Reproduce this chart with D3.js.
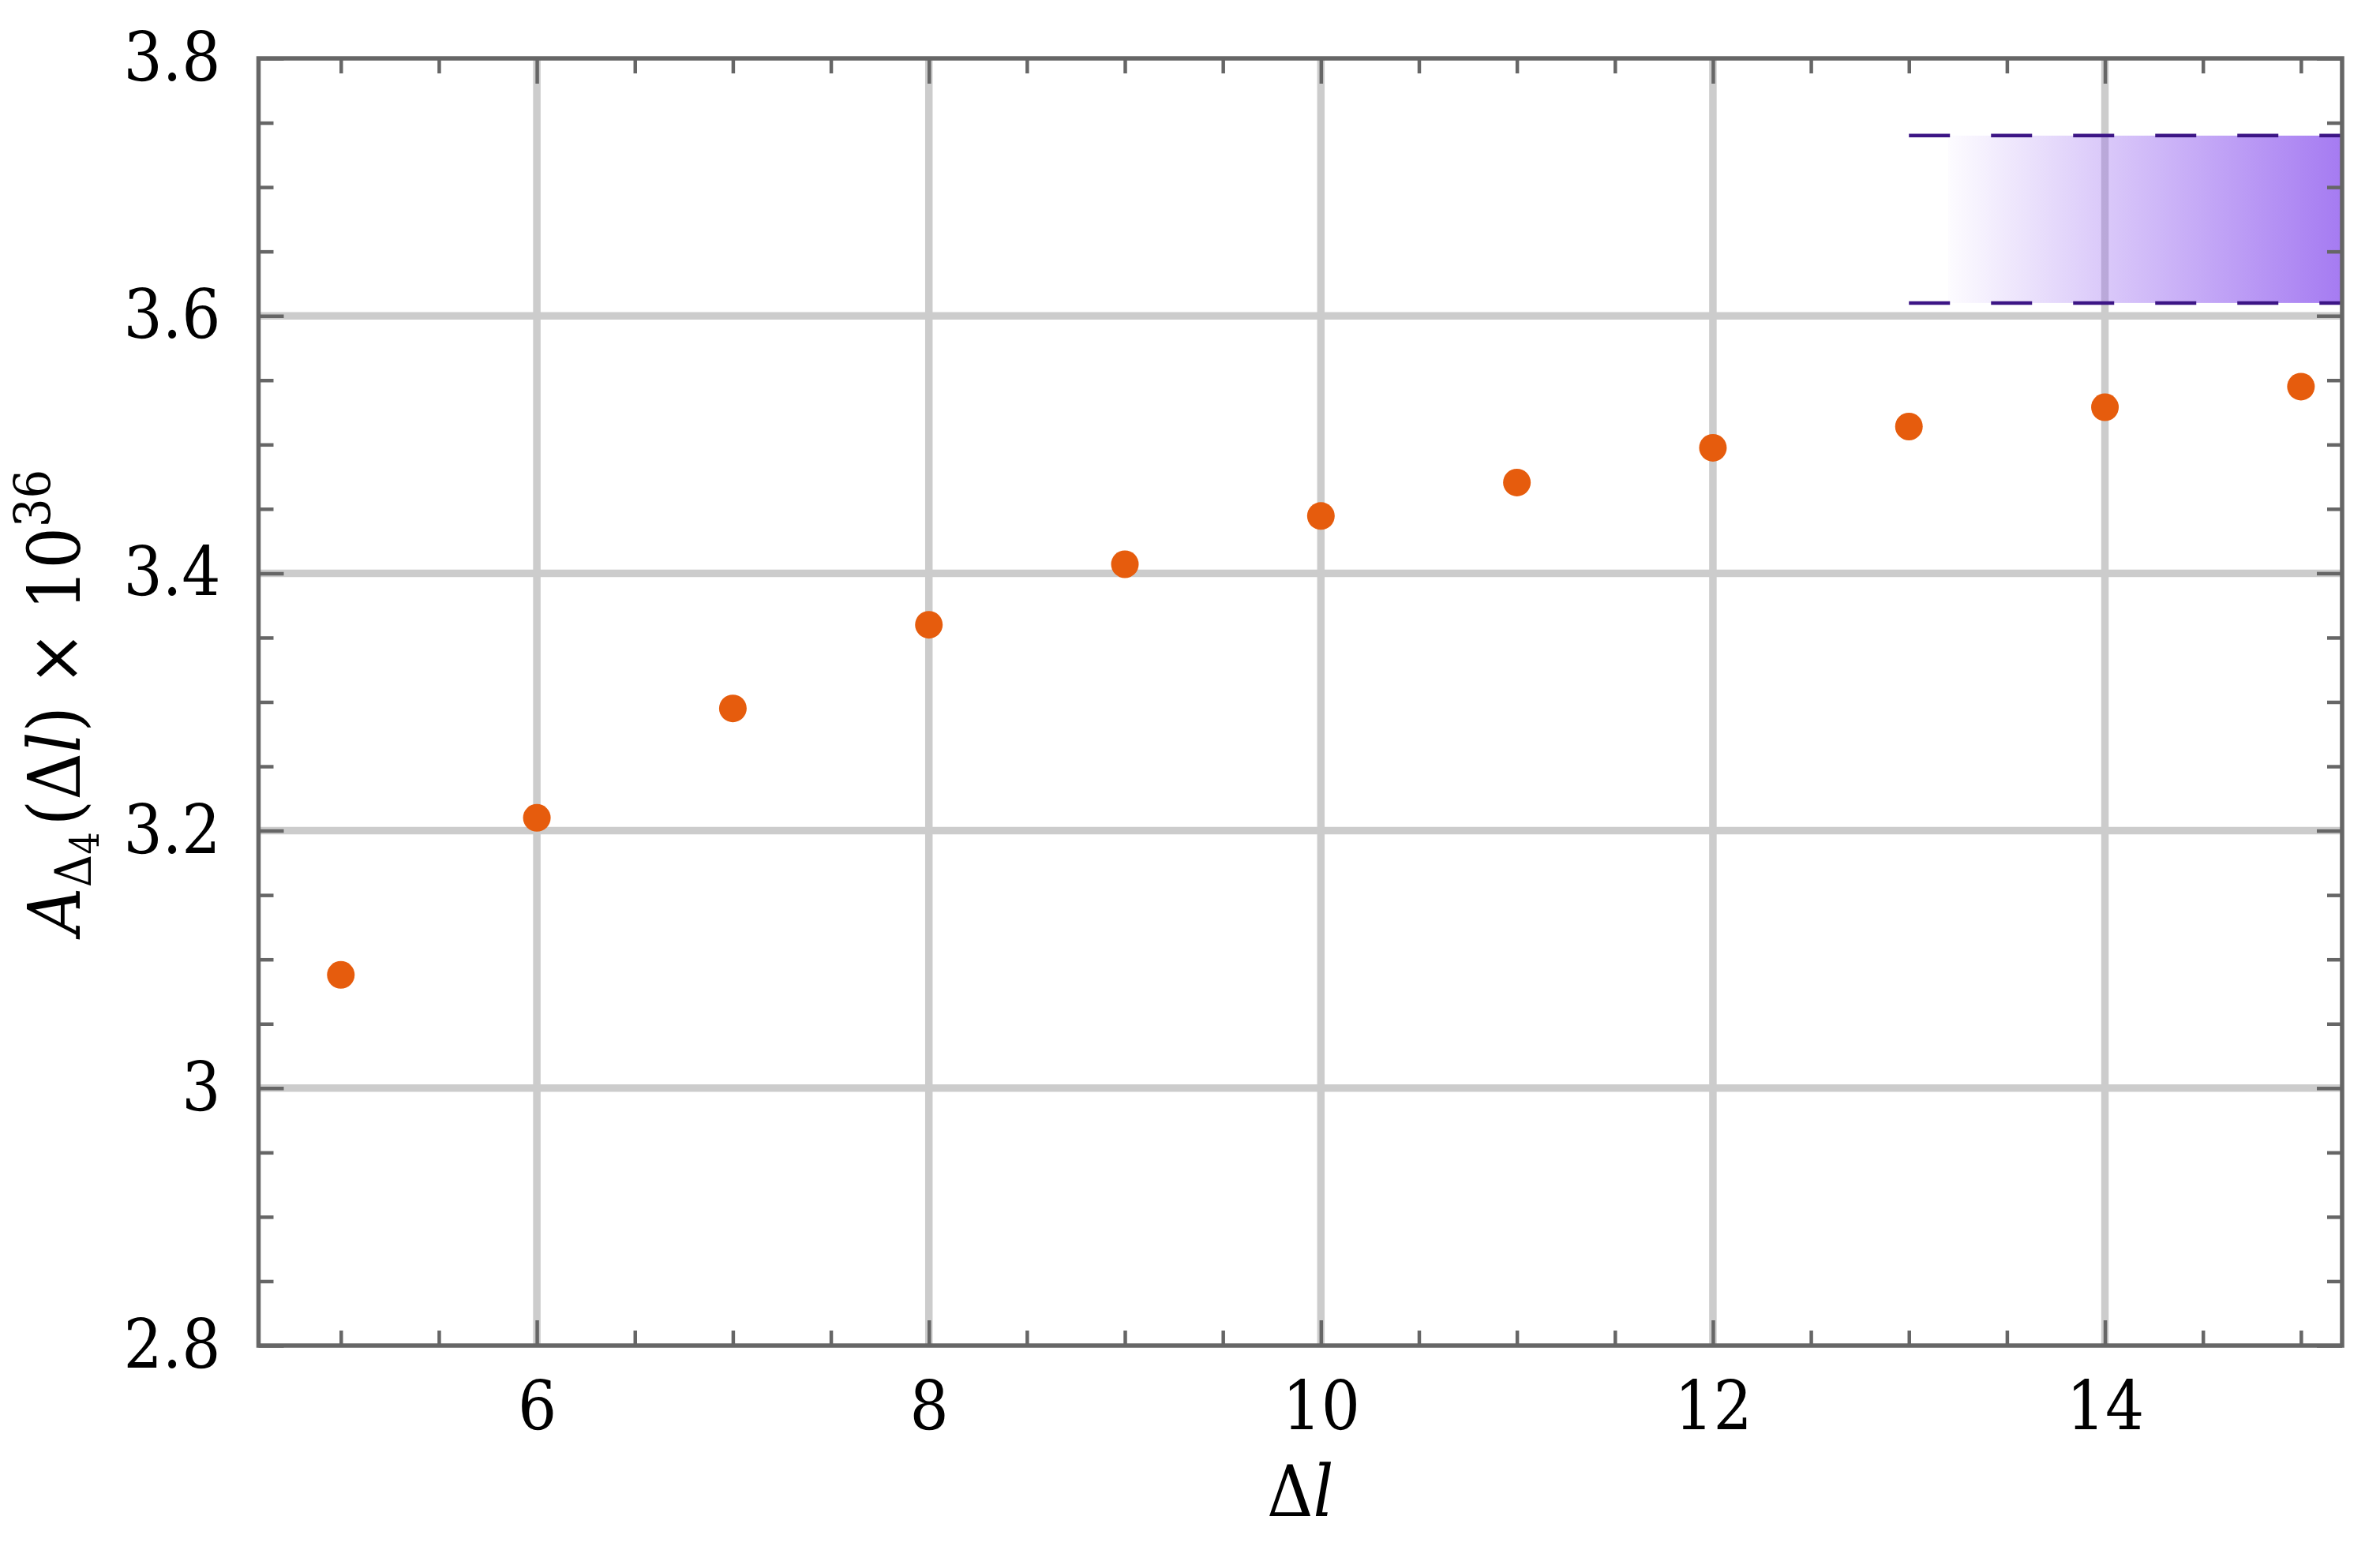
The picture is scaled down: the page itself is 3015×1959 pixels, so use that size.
<!DOCTYPE html>
<html>
<head>
<meta charset="utf-8">
<script src="https://cdn.jsdelivr.net/npm/d3@7"></script>
<style>
  html, body { margin: 0; padding: 0; background: #fff; }
  svg { display: block; }
  text { font-family: 'DejaVu Serif', serif; font-stretch: condensed; fill: #000; }
</style>
</head>
<body>
<script>
// ---- data ----
const xValues = [5, 6, 7, 8, 9, 10, 11, 12, 13, 14, 15];
const yValues = [3.088, 3.210, 3.295, 3.360, 3.407, 3.4445, 3.4705, 3.4975, 3.514, 3.529, 3.545];
const xTicks = [6, 8, 10, 12, 14];
const xTickLabels = ["6", "8", "10", "12", "14"];
const xMinorTicks = [5, 5.5, 6.5, 7, 7.5, 8.5, 9, 9.5, 10.5, 11, 11.5, 12.5, 13, 13.5, 14.5, 15];
const yTicks = [2.8, 3.0, 3.2, 3.4, 3.6, 3.8];
const yTickLabels = ["2.8", "3", "3.2", "3.4", "3.6", "3.8"];
const yMinorTicks = [2.85, 2.9, 2.95, 3.05, 3.1, 3.15, 3.25, 3.3, 3.35, 3.45, 3.5, 3.55, 3.65, 3.7, 3.75];
const bandRange = [3.61, 3.74];
const bandLineStart = [13];
const bandFillStart = [13.2];

// ---- layout ----
const W = 3015, H = 1959;
const L = 327.5, R = 2967, T = 74, B = 1705;
const FS = 86;

const x = d3.scaleLinear().domain([4.58, 15.21]).range([L, R]);
const y = d3.scaleLinear().domain([2.8, 3.8]).range([B, T]);

const svg = d3.select("body").append("svg")
  .attr("width", W).attr("height", H)
  .attr("viewBox", `0 0 ${W} ${H}`);

svg.append("rect").attr("width", W).attr("height", H).attr("fill", "#fff");

const defs = svg.append("defs");
defs.append("clipPath").attr("id", "plotclip")
  .append("rect").attr("x", L).attr("y", T).attr("width", R - L).attr("height", B - T);

const grad = defs.append("linearGradient").attr("id", "bandgrad")
  .attr("gradientUnits", "userSpaceOnUse")
  .attr("x1", x(bandFillStart[0])).attr("x2", R)
  .attr("y1", 0).attr("y2", 0);
grad.append("stop").attr("offset", 0).attr("stop-color", "#9b6cf0").attr("stop-opacity", 0.02);
grad.append("stop").attr("offset", 1).attr("stop-color", "#9b6cf0").attr("stop-opacity", 0.9);

const plot = svg.append("g").attr("clip-path", "url(#plotclip)");

plot.selectAll("line.vgrid").data(xTicks).join("line")
  .attr("class", "vgrid")
  .attr("x1", d => x(d)).attr("x2", d => x(d))
  .attr("y1", T).attr("y2", B)
  .attr("stroke", "#cccccc").attr("stroke-width", 9.5);
plot.selectAll("line.hgrid").data(yTicks.slice(1, -1)).join("line")
  .attr("class", "hgrid")
  .attr("x1", L).attr("x2", R)
  .attr("y1", d => y(d)).attr("y2", d => y(d))
  .attr("stroke", "#cccccc").attr("stroke-width", 9.5);

plot.append("rect")
  .attr("x", x(bandFillStart[0]))
  .attr("width", R - x(bandFillStart[0]) + 10)
  .attr("y", y(bandRange[1]))
  .attr("height", y(bandRange[0]) - y(bandRange[1]))
  .attr("fill", "url(#bandgrad)");

plot.selectAll("line.bandedge").data(bandRange).join("line")
  .attr("class", "bandedge")
  .attr("x1", x(bandLineStart[0])).attr("x2", R + 20)
  .attr("y1", d => y(d)).attr("y2", d => y(d))
  .attr("stroke", "#3c1585").attr("stroke-width", 4.5)
  .attr("stroke-dasharray", "52 52");

const pts = xValues.map((v, i) => [v, yValues[i]]);
plot.selectAll("circle.pt").data(pts).join("circle")
  .attr("class", "pt")
  .attr("cx", d => x(d[0])).attr("cy", d => y(d[1]))
  .attr("r", 17.5)
  .attr("fill", "#e65c0d");

const MAJ = 32, MIN = 19;
function styleAxis(g) {
  g.select(".domain").remove();
  g.attr("font-family", null);
  g.selectAll(".tick line").attr("stroke", "#666666").attr("stroke-width", 4.5);
  g.selectAll(".tick text").attr("font-size", FS).attr("fill", "#000");
}

svg.append("g").attr("transform", `translate(0,${B})`)
  .call(d3.axisBottom(x).tickValues(xTicks).tickSize(-MAJ).tickPadding(45)
    .tickFormat((d, i) => xTickLabels[i]))
  .call(styleAxis);
svg.append("g").attr("transform", `translate(0,${B})`)
  .call(d3.axisBottom(x).tickValues(xMinorTicks).tickSize(-MIN).tickFormat(""))
  .call(styleAxis);
svg.append("g").attr("transform", `translate(0,${T})`)
  .call(d3.axisTop(x).tickValues(xTicks).tickSize(-MAJ).tickFormat(""))
  .call(styleAxis);
svg.append("g").attr("transform", `translate(0,${T})`)
  .call(d3.axisTop(x).tickValues(xMinorTicks).tickSize(-MIN).tickFormat(""))
  .call(styleAxis);

svg.append("g").attr("transform", `translate(${L},0)`)
  .call(d3.axisLeft(y).tickValues(yTicks).tickSize(-MAJ).tickPadding(48)
    .tickFormat((d, i) => yTickLabels[i]))
  .call(styleAxis);
svg.append("g").attr("transform", `translate(${L},0)`)
  .call(d3.axisLeft(y).tickValues(yMinorTicks).tickSize(-MIN).tickFormat(""))
  .call(styleAxis);
svg.append("g").attr("transform", `translate(${R},0)`)
  .call(d3.axisRight(y).tickValues(yTicks).tickSize(-MAJ).tickFormat(""))
  .call(styleAxis);
svg.append("g").attr("transform", `translate(${R},0)`)
  .call(d3.axisRight(y).tickValues(yMinorTicks).tickSize(-MIN).tickFormat(""))
  .call(styleAxis);

svg.append("rect")
  .attr("x", L).attr("y", T).attr("width", R - L).attr("height", B - T)
  .attr("fill", "none").attr("stroke", "#666666").attr("stroke-width", 5.5);

const xt = svg.append("text")
  .attr("x", (L + R) / 2).attr("y", 1921)
  .attr("text-anchor", "middle").attr("font-size", 90);
xt.append("tspan").text("Δ");
xt.append("tspan").attr("font-style", "italic").text("l");

const yt = svg.append("text")
  .attr("transform", `translate(101,${(T + B) / 2}) rotate(-90)`)
  .attr("text-anchor", "middle").attr("font-size", 92);
yt.append("tspan").attr("font-style", "italic").text("A");
yt.append("tspan").attr("font-size", 64).attr("dy", 14).text("Δ");
yt.append("tspan").attr("font-size", 50).attr("dy", 10).text("4");
yt.append("tspan").attr("dy", -24).attr("dx", 8).text("(Δ");
yt.append("tspan").attr("font-style", "italic").text("l");
yt.append("tspan").text(") × 10");
yt.append("tspan").attr("font-size", 64).attr("dy", -37).text("36");
</script>
</body>
</html>
